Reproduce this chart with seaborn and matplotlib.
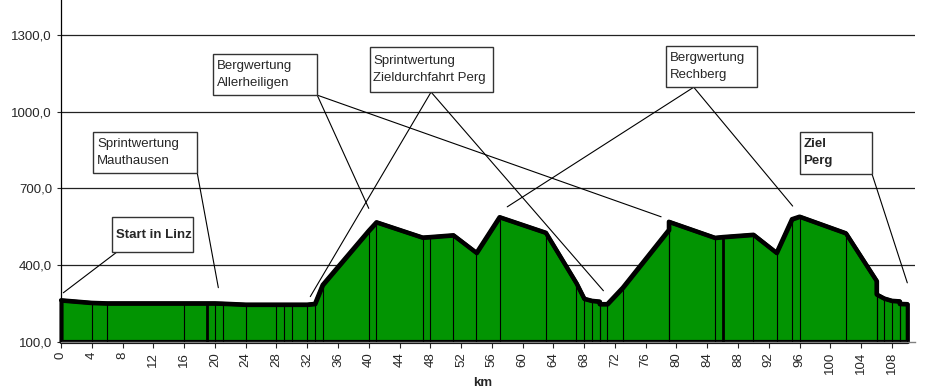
import matplotlib
matplotlib.use("Agg")
import matplotlib.pyplot as plt
import matplotlib.patches as mpatches
from matplotlib.ticker import FuncFormatter, MultipleLocator
import numpy as np
import pandas as pd
import seaborn as sns

# profile: distance (km) and altitude (m)
km = [0, 4, 6, 16, 19, 20, 21, 24, 28, 29, 30, 32, 33, 34, 40, 41, 47, 48, 51, 54,
      57, 63, 67, 68, 69, 70, 70, 71, 73, 79, 79, 85, 86, 90, 93, 95, 96, 102,
      106, 106, 107, 108, 109, 109, 110]
elev = [262, 252, 250, 250, 250, 250, 249, 245, 245, 245, 245, 245, 248, 322, 535, 568,
        508, 510, 517, 448, 588, 527, 328, 268, 260, 257, 247, 247, 311, 538, 570,
        507, 510, 519, 448, 580, 590, 525, 338, 285, 269, 260, 258, 248, 247]
heavy_km = [19, 86]

y_ticks = [100, 400, 700, 1000, 1300]
x_ticks = list(range(0, 109, 4))

# annotation boxes: (text, bold, box x0, x1, y0, y1, leader targets)
labels = [
    ("Start in Linz", True, 6.6, 17.1, 450, 587, [(0.3, 291)]),
    ("Sprintwertung\nMauthausen", False, 4.2, 17.7, 762, 920, [(20.45, 311)]),
    ("Bergwertung\nAllerheiligen", False, 19.8, 33.3, 1066, 1226, [(40.0, 622), (78.0, 589)]),
    ("Sprintwertung\nZieldurchfahrt Perg", False, 40.1, 56.1, 1078, 1254, [(32.4, 276), (70.5, 299)]),
    ("Bergwertung\nRechberg", False, 78.7, 90.5, 1097, 1258, [(58.0, 628), (95.1, 631)]),
    ("Ziel\nPerg", True, 96.0, 105.4, 758, 923, [(110.0, 330)]),
]
# leader start point on box: fraction along bottom edge
anchors = [0.06, 1.0, 1.0, 0.5, 0.3, 1.0]

df = pd.DataFrame({"km": km, "elev": elev})

sns.set_style("white")
plt.rcParams["font.family"] = ["Liberation Sans", "DejaVu Sans"]

fig = plt.figure(figsize=(9.35, 3.91), dpi=100)
ax = fig.add_axes([61 / 935, (391 - 341.5) / 391, 854 / 935, 341.5 / 391])

ax.set_xlim(0, 111)
ax.set_ylim(100, 1439)

for y in y_ticks[1:]:
    ax.axhline(y, color="#222222", lw=0.9, zorder=1)

ax.fill_between(df["km"], 100, df["elev"], color="#029402", edgecolor="black",
                lw=3, zorder=2, clip_on=False)
heavy = df["km"].isin(heavy_km)
ax.vlines(df.loc[~heavy, "km"], 100, df.loc[~heavy, "elev"], color="black", lw=0.8, zorder=3)
ax.vlines(df.loc[heavy, "km"], 100, df.loc[heavy, "elev"], color="black", lw=2.0, zorder=3)
sns.lineplot(data=df, x="km", y="elev", estimator=None, sort=False, color="black",
             lw=3, ax=ax, zorder=4, clip_on=False)

for (text, bold, x0, x1, y0, y1, targets), a in zip(labels, anchors):
    rect = mpatches.Rectangle((x0, y0), x1 - x0, y1 - y0, facecolor="white",
                              edgecolor="#333333", lw=1.0, zorder=6)
    ax.add_patch(rect)
    ax.text(x0 + 0.5, (y0 + y1) / 2, text, ha="left", va="center", fontsize=9.5,
            fontweight="bold" if bold else "normal", linespacing=1.5, zorder=7)
    sx = x0 + a * (x1 - x0)
    for tx, ty in targets:
        ax.plot([sx, tx], [y0, ty], color="black", lw=0.8, zorder=5)

ax.set_xticks(x_ticks)
ax.set_xticklabels([str(v) for v in x_ticks], rotation=90, fontsize=9.5)
ax.xaxis.set_minor_locator(MultipleLocator(2))
ax.set_yticks(y_ticks)
ax.yaxis.set_major_formatter(FuncFormatter(lambda v, p: f"{v:.1f}".replace(".", ",")))
ax.tick_params(axis="y", labelsize=9.5, length=3, width=0.8, direction="out", left=True)
ax.tick_params(axis="x", which="major", length=4, width=0.8, direction="out", bottom=True)
ax.tick_params(axis="x", which="minor", length=2, width=0.6, direction="in", bottom=True)

ax.set_ylabel("")
ax.set_xlabel("km", fontsize=9.5, fontweight="bold")
ax.xaxis.set_label_coords((483 - 61) / 854, -0.105)

for s in ["top", "right"]:
    ax.spines[s].set_visible(False)
ax.spines["left"].set_color("black")
ax.spines["left"].set_linewidth(0.9)
ax.spines["bottom"].set_color("#808080")
ax.spines["bottom"].set_linewidth(1.0)

fig.savefig("out.png", dpi=100)
plt.close(fig)
